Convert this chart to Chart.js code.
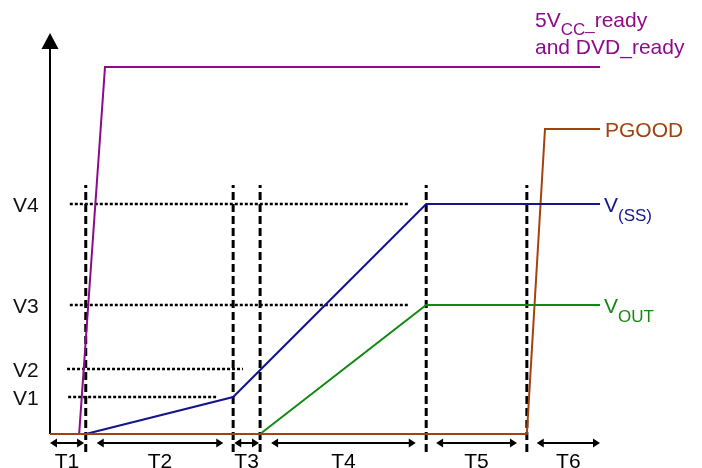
<!DOCTYPE html>
<html>
<head>
<meta charset="utf-8">
<script src="https://cdn.jsdelivr.net/npm/chart.js@4.4.1/dist/chart.umd.min.js"></script>
<style>
  html, body { margin: 0; padding: 0; background: #fff; }
  #wrap { width: 702px; height: 468px; }
</style>
</head>
<body>
<div id="wrap"><canvas id="timing"></canvas></div>
<script>
// time axis: 0 = the vertical axis, 100 = right end of the traces
const phaseEdges = [6.5, 33.3, 38.2, 68.4, 86.7];
const phaseNames = ["T1", "T2", "T3", "T4", "T5", "T6"];
const arrowFrom = [0, 8.5, 33.5, 40.2, 70.2, 88.5];
const arrowTo = [6.2, 31.5, 38, 66.5, 84.9, 100];

// voltage thresholds (0 = baseline)
const levelNames = ["V1", "V2", "V3", "V4"];
const levelValues = [9.25, 16.25, 32.25, 57.5];
const guideFrom = [3.3, 3.1, 3.6, 3.6];
const guideTo = [30.2, 35.1, 65.1, 65.1];

// traces
const readyT = [5.3, 10, 100];
const readyV = [0, 91.75, 91.75];
const ssT = [6.5, 33.3, 68.4, 100];
const ssV = [0, 9.25, 57.5, 57.5];
const outT = [38.2, 68.4, 100];
const outV = [0, 32.25, 32.25];
const pgoodT = [0, 86.7, 90, 100];
const pgoodV = [0, 0, 76.25, 76.25];

const PURPLE = "#8c0a8c";
const BLUE = "#14148c";
const GREEN = "#128a12";
const BROWN = "#a3420c";
const FONT = "'Liberation Sans', Arial, sans-serif";

function pts(xs, ys) {
  return xs.map((t, i) => ({ x: t, y: ys[i] }));
}

const datasets = [];

// dotted threshold guides
levelValues.forEach((v, i) => {
  datasets.push({
    data: pts([guideFrom[i], guideTo[i]], [v, v]),
    borderColor: "#000",
    borderWidth: 2.5,
    borderDash: [3, 2],
    order: 10,
  });
});

// dashed phase boundaries
phaseEdges.forEach((t) => {
  datasets.push({
    data: pts([t, t], [-4.5, 62.25]),
    borderColor: "#000",
    borderWidth: 3,
    borderDash: [8, 4],
    order: 10,
  });
});

datasets.push({ data: pts(pgoodT, pgoodV), borderColor: BROWN, borderWidth: 2, order: 4 });
datasets.push({ data: pts(readyT, readyV), borderColor: PURPLE, borderWidth: 2, order: 1 });
datasets.push({ data: pts(outT, outV), borderColor: GREEN, borderWidth: 2, order: 2 });
datasets.push({ data: pts(ssT, ssV), borderColor: BLUE, borderWidth: 2, order: 3 });

// draw text made of parts: [text, font size, baseline shift]
function drawParts(ctx, parts, x, y, color) {
  ctx.fillStyle = color;
  ctx.textAlign = "left";
  ctx.textBaseline = "alphabetic";
  parts.forEach(([txt, size, dy]) => {
    ctx.font = size + "px " + FONT;
    ctx.fillText(txt, x, y + dy);
    x += ctx.measureText(txt).width;
  });
}

const extras = {
  id: "extras",
  afterDatasetsDraw(chart) {
    const { ctx, chartArea: a, scales: { x, y } } = chart;
    ctx.save();

    // vertical axis with arrow head
    ctx.strokeStyle = "#000";
    ctx.fillStyle = "#000";
    ctx.lineWidth = 2;
    ctx.beginPath();
    ctx.moveTo(a.left, a.bottom);
    ctx.lineTo(a.left, a.top + 14);
    ctx.stroke();
    ctx.beginPath();
    ctx.moveTo(a.left, a.top - 1);
    ctx.lineTo(a.left - 8.5, a.top + 15);
    ctx.lineTo(a.left + 8.5, a.top + 15);
    ctx.closePath();
    ctx.fill();

    // redraw baseline over the axis foot
    ctx.strokeStyle = BROWN;
    ctx.beginPath();
    ctx.moveTo(a.left, y.getPixelForValue(0));
    ctx.lineTo(x.getPixelForValue(pgoodT[1]), y.getPixelForValue(0));
    ctx.stroke();

    // phase arrows and names
    const ay = y.getPixelForValue(-2.25);
    ctx.strokeStyle = "#000";
    ctx.lineWidth = 2;
    phaseNames.forEach((name, i) => {
      const x1 = x.getPixelForValue(arrowFrom[i]);
      const x2 = x.getPixelForValue(arrowTo[i]);
      ctx.beginPath();
      ctx.moveTo(x1 + 2, ay);
      ctx.lineTo(x2 - 2, ay);
      ctx.stroke();
      ctx.beginPath();
      ctx.moveTo(x1, ay);
      ctx.lineTo(x1 + 7, ay - 4.5);
      ctx.lineTo(x1 + 7, ay + 4.5);
      ctx.closePath();
      ctx.moveTo(x2, ay);
      ctx.lineTo(x2 - 7, ay - 4.5);
      ctx.lineTo(x2 - 7, ay + 4.5);
      ctx.closePath();
      ctx.fill();
      ctx.font = "21px " + FONT;
      ctx.textAlign = "center";
      ctx.textBaseline = "alphabetic";
      ctx.fillText(name, (x1 + x2) / 2, 468);
    });

    // threshold names
    levelNames.forEach((name, i) => {
      drawParts(ctx, [[name, 21, 0]], 13, y.getPixelForValue(levelValues[i]) + 8, "#111");
    });

    // trace names
    const lx = x.getPixelForValue(100) + 4;
    drawParts(ctx, [["PGOOD", 21, 0]], lx + 1, y.getPixelForValue(pgoodV[3]) + 8, BROWN);
    drawParts(ctx, [["V", 21, 0], ["(SS)", 17, 9]], lx, y.getPixelForValue(ssV[3]) + 8, BLUE);
    drawParts(ctx, [["V", 21, 0], ["OUT", 17, 9]], lx, y.getPixelForValue(outV[2]) + 8, GREEN);
    const ry = y.getPixelForValue(readyV[2]);
    drawParts(ctx, [["5V", 21, 0], ["CC", 17, 8], ["_", 17, 3], ["ready", 21, 0]], 535, ry - 40, PURPLE);
    drawParts(ctx, [["and DVD_ready", 21, 0]], 535, ry - 13, PURPLE);

    ctx.restore();
  },
};

new Chart(document.getElementById("timing"), {
  type: "line",
  data: { datasets: datasets },
  options: {
    responsive: true,
    maintainAspectRatio: false,
    animation: false,
    events: [],
    layout: { padding: { left: 50, right: 102, top: 34, bottom: 34 } },
    datasets: { line: { clip: false, pointRadius: 0, tension: 0, fill: false } },
    plugins: { legend: { display: false }, tooltip: { enabled: false } },
    scales: {
      x: { type: "linear", min: 0, max: 100, display: false },
      y: { type: "linear", min: 0, max: 100, display: false },
    },
  },
  plugins: [extras],
});
</script>
</body>
</html>
